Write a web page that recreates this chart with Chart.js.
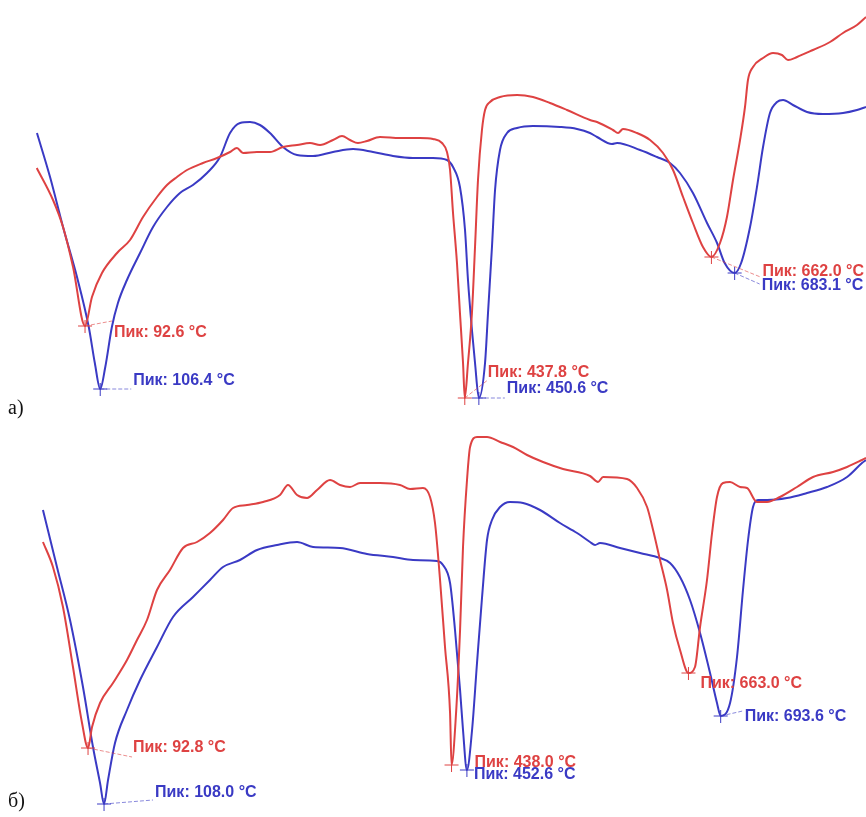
<!DOCTYPE html>
<html>
<head>
<meta charset="utf-8">
<script src="https://cdn.jsdelivr.net/npm/chart.js@4.4.1/dist/chart.umd.min.js"></script>
<style>
  body { margin: 0; background: #fff; }
  #wrap { position: relative; width: 866px; height: 817px; overflow: hidden; }
  canvas { position: absolute; left: 0; }
  #cA { top: 0; }
  #cB { top: 420px; }
  .tag { position: absolute; left: 8px; font: 20px "Liberation Serif", "Times New Roman", serif; color: #111; }
</style>
</head>
<body>
<div id="wrap">
  <canvas id="cA" width="866" height="420"></canvas>
  <canvas id="cB" width="866" height="397"></canvas>
  <div class="tag" style="top:396px">а)</div>
  <div class="tag" style="top:789px">б)</div>
</div>
<script>
// Температура, °C и сигнал (усл. ед.) — панель а)
const A_RED_T = [48.7,63.5,72.6,81.7,92.6,98.9,108.0,121.7,133.5,145.3,158.0,167.1,176.2,185.3,199.8,212.6,224.4,230.7,236.2,248.9,260.7,272.5,285.3,297.1,306.2,318.0,326.2,333.5,340.7,348.9,360.7,378.9,397.1,408.9,417.1,421.6,424.4,427.1,430.7,433.4,436.2,437.8,440.7,444.3,447.1,449.8,453.4,456.2,460.7,469.8,485.3,499.8,515.3,530.7,551.6,558.0,572.5,577.1,581.6,594.3,606.2,618.0,627.1,636.2,645.2,654.3,662.0,669.8,676.1,681.6,688.0,692.5,695.2,699.8,708.9,718.0,726.1,731.6,739.8,754.3,769.8,781.6,794.3,802.5];
const A_RED_S = [252,220,193,153,94,123,147,167,180,203,223,235,243,250,257,262,268,272,267,268,268,273,275,277,275,280,284,280,277,279,283,282,282,281,277,268,250,207,157,107,57,22,57,107,173,240,290,310,318,323,325,323,317,310,300,298,290,287,291,287,280,267,250,223,197,173,163,177,203,240,280,313,340,353,362,367,365,360,363,370,378,387,395,403];

const A_BLUE_T = [48.9,60.8,72.6,85.3,96.0,101.5,106.4,111.0,117.0,122.5,130.7,142.6,154.4,167.1,178.9,190.7,203.5,215.3,224.4,233.5,242.6,251.6,260.7,272.5,285.3,299.8,318.0,336.2,354.4,372.5,390.7,408.9,421.6,427.1,433.4,438.0,440.7,444.3,447.1,450.6,456.2,458.9,462.5,465.3,469.8,476.2,485.3,499.8,524.3,539.8,551.6,558.0,571.6,576.2,597.1,612.5,624.3,633.4,645.2,658.0,667.1,674.0,683.1,689.0,697.1,703.4,708.9,715.2,721.6,727.1,736.1,748.9,763.4,781.6,794.3,802.5];
const A_BLUE_S = [287,243,193,143,93,57,31,53,93,117,140,167,193,213,227,235,247,263,287,297,298,295,287,273,265,264,268,271,268,264,262,262,260,253,233,190,140,90,57,22,57,107,173,230,270,287,292,294,293,291,287,283,276,277,270,263,257,247,227,197,177,157,147,157,193,233,273,307,318,320,315,308,306,307,310,313];

// панель б)
const B_RED_T = [50.0,59.5,69.0,78.5,87.1,92.8,96.6,104.2,116.5,129.8,139.3,148.8,158.3,170.6,183.0,196.3,208.6,221.0,230.5,243.8,259.0,275.1,282.7,291.3,300.8,310.3,322.6,332.1,341.6,351.1,370.1,389.1,398.6,410.9,417.6,422.3,427.1,431.8,436.6,438.0,442.3,446.1,448.9,452.7,455.6,462.2,471.7,484.1,496.4,509.7,524.9,543.9,569.5,577.1,581.9,604.7,614.2,623.7,629.4,636.0,642.7,648.3,655.0,663.0,669.2,674.0,680.6,685.4,690.1,695.8,702.5,712.0,718.6,728.1,737.6,749.9,766.1,781.3,800.3,813.6,827.8,831.6];
const B_RED_S = [275,250,210,150,94,69,90,114,134,157,177,197,227,247,269,275,284,297,309,312,315,322,332,322,319,327,337,332,330,334,334,332,328,329,320,294,237,170,104,52,104,187,270,337,370,380,380,375,370,362,355,348,341,335,340,338,329,310,287,257,227,194,167,144,150,190,237,284,320,334,335,330,329,315,315,320,330,340,345,350,357,359];

const B_BLUE_T = [50.0,63.3,75.7,88.0,97.5,104.2,108.0,111.8,118.4,129.8,142.2,158.3,173.5,192.5,208.6,221.0,237.1,253.3,272.3,291.3,306.5,332.1,357.7,382.4,401.4,424.2,429.9,436.6,441.3,446.1,448.9,452.6,457.5,462.2,467.0,471.7,476.4,484.1,493.5,505.9,522.0,541.0,557.2,569.5,574.3,579.0,598.0,617.0,636.0,645.5,655.0,664.5,674.0,683.5,690.1,693.6,702.5,709.1,714.8,719.6,724.3,729.1,737.6,756.6,775.6,794.6,813.6,827.8,831.6];
const B_BLUE_S = [307,250,197,130,70,34,13,37,74,107,137,170,200,220,237,250,257,267,272,275,270,269,263,260,257,256,252,234,187,127,87,47,87,154,220,277,297,310,315,314,307,294,284,275,272,274,269,264,259,254,240,217,184,144,114,101,114,160,227,277,310,317,317,319,324,330,340,354,357];

// пики, °C
const A_RED_PEAKS = [92.6, 437.8, 662.0];
const A_BLUE_PEAKS = [106.4, 450.6, 683.1];
const B_RED_PEAKS = [92.8, 438.0, 663.0];
const B_BLUE_PEAKS = [108.0, 452.6, 693.6];

const RED = "rgb(222,66,66)";
const BLUE = "rgb(58,58,196)";

// смещения подписей: [dx, dy, leaderX, leaderY]
const A_RED_OFF = [[29, 7, 27, -5], [23, -25, 23, -18], [51, 15, 49, 20]];
const A_BLUE_OFF = [[33, -8, 31, 0], [28, -9, 26, 0], [27, 13, 25, 11]];
const B_RED_OFF = [[45, 0, 44, 9], [23, -2, 0, 0], [12, 11, 0, 0]];
const B_BLUE_OFF = [[51, -11, 49, -4], [7, 5, 0, 0], [24, 1, 22, -5]];

function pts(T, S) { return T.map((t, i) => ({ x: t, y: S[i] })); }

function marks(T, S, peaks, offs, color) {
    return peaks.map((t, i) => ({ t: t, s: S[T.indexOf(t)], off: offs[i], color: color }));
}

const peakPlugin = {
    id: "peakMarks",
    afterDatasetsDraw(chart, args, opts) {
        const ctx = chart.ctx, x = chart.scales.x, y = chart.scales.y;
        opts.items.forEach(p => {
            const px = x.getPixelForValue(p.t), py = y.getPixelForValue(p.s);
            const [dx, dy, lx, ly] = p.off;
            ctx.save();
            ctx.strokeStyle = p.color;
            ctx.lineWidth = 1;
            ctx.beginPath();
            ctx.moveTo(px - 7, py); ctx.lineTo(px + 7, py);
            ctx.moveTo(px, py - 6); ctx.lineTo(px, py + 7);
            ctx.stroke();
            if (lx || ly) {
                ctx.setLineDash([4, 2]);
                ctx.globalAlpha = 0.6;
                ctx.beginPath();
                ctx.moveTo(px, py); ctx.lineTo(px + lx, py + ly);
                ctx.stroke();
            }
            ctx.restore();
            ctx.save();
            ctx.fillStyle = p.color;
            ctx.font = 'bold 16px "Liberation Sans", Arial, sans-serif';
            ctx.textBaseline = "middle";
            ctx.fillText("Пик: " + p.t.toFixed(1) + " °C", px + dx, py + dy);
            ctx.restore();
        });
    }
};

function makeChart(id, xMin, xMax, yMax, red, blue, items) {
    return new Chart(document.getElementById(id), {
        type: "line",
        data: {
            datasets: [
                { data: red, borderColor: RED, borderWidth: 2, pointRadius: 0, cubicInterpolationMode: "monotone" },
                { data: blue, borderColor: BLUE, borderWidth: 2, pointRadius: 0, cubicInterpolationMode: "monotone" }
            ]
        },
        options: {
            responsive: false,
            animation: false,
            layout: { padding: 0 },
            scales: {
                x: { type: "linear", min: xMin, max: xMax, display: false },
                y: { min: 0, max: yMax, display: false }
            },
            plugins: { legend: { display: false }, tooltip: { enabled: false }, peakMarks: { items: items } }
        },
        plugins: [peakPlugin]
    });
}

makeChart("cA", 15.3, 802.5, 420,
    pts(A_RED_T, A_RED_S), pts(A_BLUE_T, A_BLUE_S),
    marks(A_RED_T, A_RED_S, A_RED_PEAKS, A_RED_OFF, RED).concat(marks(A_BLUE_T, A_BLUE_S, A_BLUE_PEAKS, A_BLUE_OFF, BLUE)));

makeChart("cB", 9.2, 831.6, 397,
    pts(B_RED_T, B_RED_S), pts(B_BLUE_T, B_BLUE_S),
    marks(B_RED_T, B_RED_S, B_RED_PEAKS, B_RED_OFF, RED).concat(marks(B_BLUE_T, B_BLUE_S, B_BLUE_PEAKS, B_BLUE_OFF, BLUE)));
</script>
</body>
</html>
